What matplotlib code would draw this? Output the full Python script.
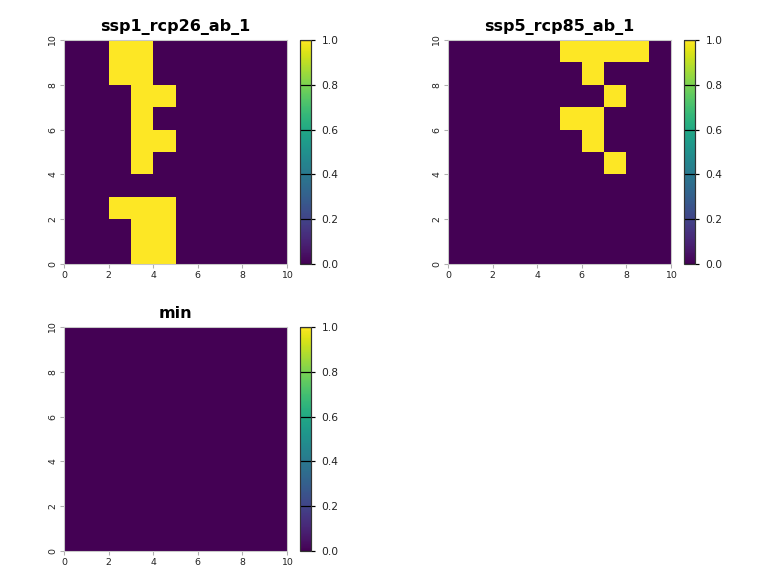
import numpy as np
import matplotlib
matplotlib.use("Agg")
import matplotlib.pyplot as plt

# raster layers, rows listed from top (y=10) to bottom (y=0)
titles = ["ssp1_rcp26_ab_1", "ssp5_rcp85_ab_1", "min"]

ssp1 = [
    [0, 0, 1, 1, 0, 0, 0, 0, 0, 0],
    [0, 0, 1, 1, 0, 0, 0, 0, 0, 0],
    [0, 0, 0, 1, 1, 0, 0, 0, 0, 0],
    [0, 0, 0, 1, 0, 0, 0, 0, 0, 0],
    [0, 0, 0, 1, 1, 0, 0, 0, 0, 0],
    [0, 0, 0, 1, 0, 0, 0, 0, 0, 0],
    [0, 0, 0, 0, 0, 0, 0, 0, 0, 0],
    [0, 0, 1, 1, 1, 0, 0, 0, 0, 0],
    [0, 0, 0, 1, 1, 0, 0, 0, 0, 0],
    [0, 0, 0, 1, 1, 0, 0, 0, 0, 0],
]

ssp5 = [
    [0, 0, 0, 0, 0, 1, 1, 1, 1, 0],
    [0, 0, 0, 0, 0, 0, 1, 0, 0, 0],
    [0, 0, 0, 0, 0, 0, 0, 1, 0, 0],
    [0, 0, 0, 0, 0, 1, 1, 0, 0, 0],
    [0, 0, 0, 0, 0, 0, 1, 0, 0, 0],
    [0, 0, 0, 0, 0, 0, 0, 1, 0, 0],
    [0, 0, 0, 0, 0, 0, 0, 0, 0, 0],
    [0, 0, 0, 0, 0, 0, 0, 0, 0, 0],
    [0, 0, 0, 0, 0, 0, 0, 0, 0, 0],
    [0, 0, 0, 0, 0, 0, 0, 0, 0, 0],
]

min_layer = [[0] * 10 for _ in range(10)]

layers = [ssp1, ssp5, min_layer]
axis_ticks = [0, 2, 4, 6, 8, 10]
cbar_ticks = [0.0, 0.2, 0.4, 0.6, 0.8, 1.0]

# --- layout (pixels) ---
W, H = 768, 576
panels = [  # left, top in px
    (64, 40),
    (448, 40),
    (64, 327),
]
AX_W, AX_H = 223, 224
CB_GAP, CB_W = 13, 11

fig = plt.figure(figsize=(W / 96, H / 96), dpi=96)
edges = np.arange(0, 11)

for (left, top), grid, title in zip(panels, layers, titles):
    ax = fig.add_axes([left / W, 1 - (top + AX_H) / H, AX_W / W, AX_H / H])
    mesh = ax.pcolormesh(edges, edges, np.flipud(np.array(grid, dtype=float)),
                         cmap="viridis", vmin=0, vmax=1)
    ax.set_xlim(0, 10)
    ax.set_ylim(0, 10)
    ax.set_xticks(axis_ticks)
    ax.set_yticks(axis_ticks)
    ax.tick_params(labelsize=7, length=3, color="#b0b0b0", pad=2, labelcolor="#222222")
    for lab in ax.get_yticklabels():
        lab.set_rotation(90)
        lab.set_va("center")
    for s in ax.spines.values():
        s.set_color("#c8c8c8")
        s.set_linewidth(0.8)
    ax.set_title(title, fontsize=12, fontweight="bold", pad=7)

    cax = fig.add_axes([(left + AX_W + CB_GAP) / W, 1 - (top + AX_H) / H, CB_W / W, AX_H / H])
    cb = fig.colorbar(mesh, cax=cax)
    cb.set_ticks(cbar_ticks)
    cb.set_ticklabels([f"{t:.1f}" for t in cbar_ticks])
    cb.outline.set_edgecolor("#333333")
    cb.outline.set_linewidth(0.9)
    cax.tick_params(labelsize=8, length=3, width=0.9, color="black", pad=5,
                    labelcolor="#222222")
    for t in cbar_ticks:
        cax.axhline(t, color="black", lw=0.9)

fig.savefig("out.png", dpi=96)
